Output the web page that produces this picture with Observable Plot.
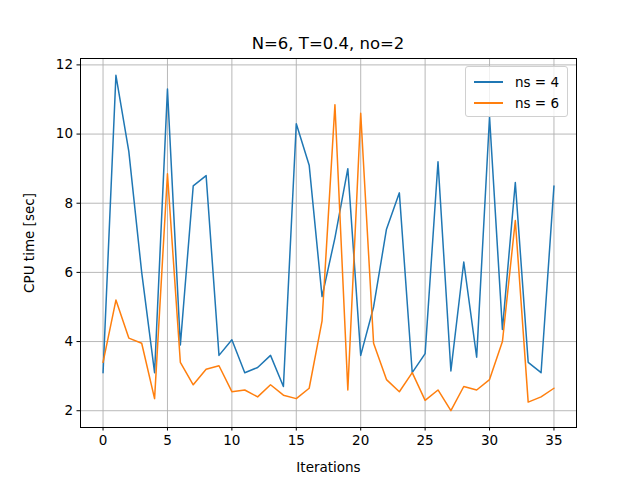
<!DOCTYPE html>
<html><head><meta charset="utf-8">
<script src="https://cdn.jsdelivr.net/npm/d3@7"></script>
<script src="https://cdn.jsdelivr.net/npm/@observablehq/plot@0.6"></script>
<style>
body{margin:0;background:#fff;font-family:"DejaVu Sans",sans-serif}
#wrap{position:relative;width:640px;height:480px}
#title{position:absolute;left:80px;width:496px;top:34px;text-align:center;font-size:16.5px}
#legend{position:absolute;right:72px;top:66px;border:1px solid #d0d0d0;border-radius:3px;padding:4px 8px 3px 8px;font-size:13.5px;background:rgba(255,255,255,.8)}
#legend div{display:flex;align-items:center;height:21px}
#legend span{display:inline-block;width:29px;height:2px;margin-right:12px}
</style></head><body>
<div id="wrap"><div id="chart"></div>
<div id="title">N=6, T=0.4, no=2</div>
<div id="legend"><div><span style="background:#1f77b4"></span>ns = 4</div><div><span style="background:#ff7f0e"></span>ns = 6</div></div>
</div>
<script>
const ns4 = [3.1, 11.7, 9.5, 6.0, 3.1, 11.3, 3.9, 8.5, 8.8, 3.6, 4.05, 3.1, 3.25, 3.6, 2.7, 10.3, 9.1, 5.3, 7.0, 9.0, 3.6, 5.0, 7.25, 8.3, 3.1, 3.65, 9.2, 3.15, 6.3, 3.55, 10.5, 4.35, 8.6, 3.4, 3.1, 8.5];
const ns6 = [3.4, 5.2, 4.1, 3.95, 2.35, 8.85, 3.4, 2.75, 3.2, 3.3, 2.55, 2.6, 2.4, 2.75, 2.45, 2.35, 2.65, 4.6, 10.85, 2.6, 10.6, 3.95, 2.9, 2.55, 3.1, 2.3, 2.6, 2.0, 2.7, 2.6, 2.9, 4.0, 7.5, 2.25, 2.4, 2.65];
const xTicks = [0, 5, 10, 15, 20, 25, 30, 35];
const yTicks = [2, 4, 6, 8, 10, 12];

const d4 = ns4.map((v, i) => ({i, v}));
const d6 = ns6.map((v, i) => ({i, v}));

const chart = Plot.plot({
  width: 640, height: 480,
  marginLeft: 80, marginRight: 64, marginTop: 58, marginBottom: 53,
  style: {fontFamily: "DejaVu Sans", fontSize: "13.5px", color: "#000"},
  x: {domain: [-1.75, 36.75]},
  y: {domain: [1.515, 12.185]},
  marks: [
    Plot.gridX(xTicks, {stroke: "#b0b0b0", strokeOpacity: 1, strokeWidth: 0.9}),
    Plot.gridY(yTicks, {stroke: "#b0b0b0", strokeOpacity: 1, strokeWidth: 0.9}),
    Plot.axisX(xTicks, {tickSize: 3.5, tickPadding: 4, label: "Iterations", labelAnchor: "center", labelArrow: "none", labelOffset: 44}),
    Plot.axisY(yTicks, {tickSize: 3.5, tickPadding: 4, label: "CPU time [sec]", labelAnchor: "center", labelArrow: "none", labelOffset: 56}),
    Plot.line(d4, {x: "i", y: "v", stroke: "#1f77b4", strokeWidth: 1.5}),
    Plot.line(d6, {x: "i", y: "v", stroke: "#ff7f0e", strokeWidth: 1.5}),
    Plot.frame({stroke: "#000", strokeWidth: 1})
  ]
});
d3.select('#chart').append(() => chart);
</script></body></html>
